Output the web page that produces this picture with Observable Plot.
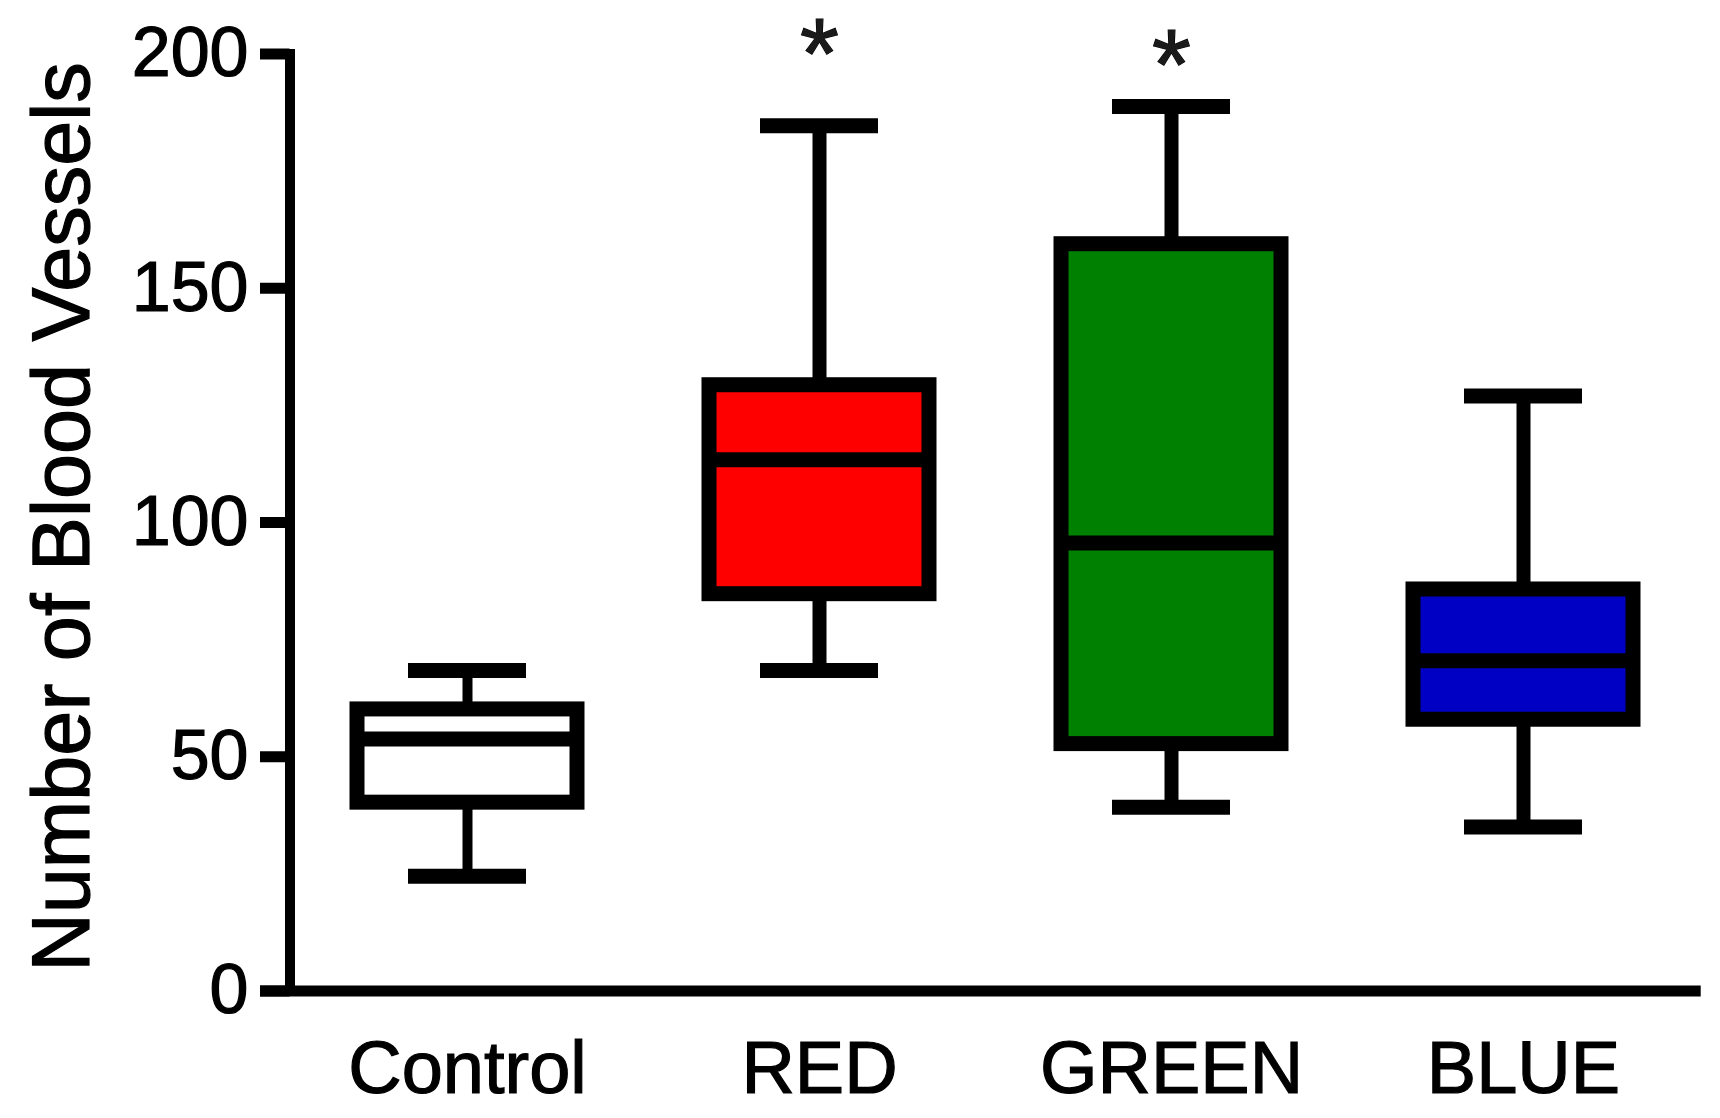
<!DOCTYPE html>
<html>
<head>
<meta charset="utf-8">
<script src="https://cdn.jsdelivr.net/npm/d3@7"></script>
<script src="https://cdn.jsdelivr.net/npm/@observablehq/plot@0.6"></script>
<style>
  html, body { margin: 0; padding: 0; background: #ffffff; }
  #chart { width: 1720px; height: 1118px; }
  svg { display: block; }
  svg text { stroke: #000; stroke-width: 1.2px; paint-order: stroke; }
</style>
</head>
<body>
<div id="chart"></div>
<script>
// ---- data ----
const groups  = ["Control", "RED", "GREEN", "BLUE"];
const mins    = [24.5, 68.4, 39.2, 35.0];
const q1s     = [40.2, 84.7, 52.7, 57.9];
const medians = [53.8, 113.4, 95.6, 70.5];
const q3s     = [60.1, 129.3, 159.4, 85.7];
const maxs    = [68.4, 184.7, 188.8, 127.0];
const fills   = ["#ffffff", "#ff0000", "#008000", "#0000c4"];
const yTicks  = [0, 50, 100, 150, 200];
const starGroups = ["RED", "GREEN"];
const starY      = [204.3, 202.0];
const yTitle = "Number of Blood Vessels";

const rows = groups.map((g, i) => ({
  group: g, min: mins[i], q1: q1s[i], median: medians[i], q3: q3s[i], max: maxs[i], fill: fills[i]
}));
const stars = starGroups.map((g, i) => ({group: g, y: starY[i]}));

const W = 1720, H = 1118;
const mLeft = 289.5, mRight = 19.3, mTop = 53.5, mBottom = 127.5;
const font = "'Liberation Sans', Arial, Helvetica, sans-serif";
const starSize = 100;

const chart = Plot.plot({
  width: W,
  height: H,
  marginLeft: mLeft,
  marginRight: mRight,
  marginTop: mTop,
  marginBottom: mBottom,
  style: {fontFamily: font, color: "#000", background: "#fff", overflow: "visible"},
  x: {domain: groups, paddingInner: 0.3764, paddingOuter: 0.1882, align: 0.5, label: null},
  y: {domain: [0, 200], label: null},
  marks: [
    // whiskers
    Plot.ruleX(rows.filter(d => d.group === "Control"), {x: "group", y1: "q3", y2: "max", stroke: "#000", strokeWidth: 10}),
    Plot.ruleX(rows.filter(d => d.group === "Control"), {x: "group", y1: "min", y2: "q1", stroke: "#000", strokeWidth: 10}),
    Plot.ruleX(rows.filter(d => d.group !== "Control"), {x: "group", y1: "q3", y2: "max", stroke: "#000", strokeWidth: 14}),
    Plot.ruleX(rows.filter(d => d.group !== "Control"), {x: "group", y1: "min", y2: "q1", stroke: "#000", strokeWidth: 14}),
    // caps
    Plot.tickY(rows, {x: "group", y: "max", stroke: "#000", strokeWidth: 15, insetLeft: 51, insetRight: 51}),
    Plot.tickY(rows, {x: "group", y: "min", stroke: "#000", strokeWidth: 15, insetLeft: 51, insetRight: 51}),
    // boxes
    Plot.barY(rows, {x: "group", y1: "q1", y2: "q3", fill: d => d.fill, stroke: "#000", strokeWidth: 15}),
    // medians
    Plot.tickY(rows, {x: "group", y: "median", stroke: "#000", strokeWidth: 15}),
    // axes
    Plot.axisY({ticks: yTicks, tickFormat: d => String(d), tickSize: 29.5, tickPadding: 12,
                fontSize: 70, strokeWidth: 11, label: null}),
    Plot.axisX({tickSize: 0, tickPadding: 49, fontSize: 74, label: null}),
    Plot.ruleY([0], {stroke: "#000", strokeWidth: 11, insetLeft: -29.5}),
    Plot.frame({anchor: "left", stroke: "#000", strokeWidth: 10, strokeLinecap: "square"}),
    // significance stars
    Plot.text(stars, {x: "group", y: "y", text: () => "*", fontSize: starSize, lineAnchor: "middle",
                      dy: 0.22 * starSize, fill: "#1a1a1a"}),
    // y title
    Plot.text([yTitle], {frameAnchor: "left", text: d => d, rotate: -90, fontSize: 81,
                         textAnchor: "middle", lineAnchor: "bottom", dx: -201.5, dy: -5.5, fill: "#000"})
  ]
});

document.getElementById("chart").appendChild(chart);
</script>
</body>
</html>
